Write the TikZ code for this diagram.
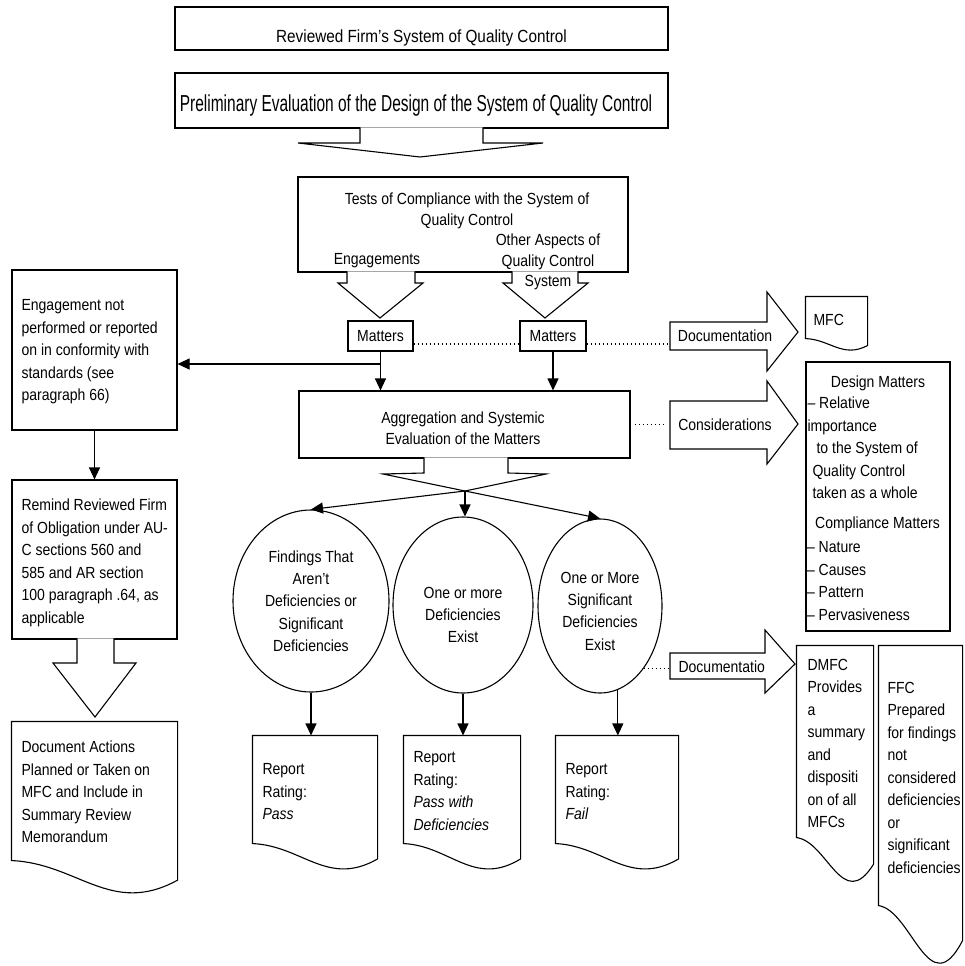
\documentclass[tikz,border=0pt]{standalone}
\usepackage{fontspec}
\setmainfont{Liberation Sans}[FakeStretch=0.87]
\newfontfamily\tallsans{Liberation Sans}[FakeStretch=0.67]
\usetikzlibrary{arrows.meta,shapes.geometric,calc}

\begin{document}
\begin{tikzpicture}[
	x=1pt, y=-1pt, line width=1.1pt,
	box/.style={ draw, rectangle, inner sep=0pt },
	lbl/.style={ font=\fontsize{16.1pt}{20.5pt}\selectfont, align=center, inner sep=0pt },
	note/.style={ font=\fontsize{16.1pt}{22.5pt}\selectfont, align=left, inner sep=0pt, anchor=west },
	doc/.style={ rectangle, inner sep=0pt },
	bubble/.style={ ellipse, draw, inner sep=0pt },
	arr/.style={ -{Triangle[length=12pt,width=11pt]} },
	dotline/.style={ line width=1.3pt, dash pattern=on 1.5pt off 2.5pt }
]
\useasboundingbox (0,0) rectangle (964,966);

\node at (421.5,28.5) (firm) [box, minimum width=493pt, minimum height=43pt] {};
\node at (421.5,100.5) (prelim) [box, minimum width=493pt, minimum height=55pt] {};
\path[draw, fill=white] (360,127.3) -- (360,143) -- (298,143) -- (420,157) -- (543,143) -- (483,143) -- (483,127.3);

\node at (463,224.5) (tests) [box, minimum width=330pt, minimum height=95pt] {};
\path[draw, fill=white] (347,271.3) -- (347,283) -- (338,283) -- (380,318) -- (423,283) -- (415,283) -- (415,271.3);
\path[draw, fill=white] (512,271.3) -- (512,283) -- (503,283) -- (545,318) -- (588,283) -- (578,283) -- (578,271.3);

\node at (421.5,38) (firmtxt) [lbl, font=\fontsize{17.6pt}{20pt}\selectfont] {Reviewed Firm’s System of Quality Control};
\node at (416,106) (prelimtxt) [lbl, font=\tallsans\fontsize{23.1pt}{26pt}\selectfont] {Preliminary Evaluation of the Design of the System of Quality Control};
\node at (467,211) (teststxt) [lbl] {Tests of Compliance with the System of\\Quality Control};
\node at (377,261) (engtxt) [lbl] {Engagements};
\node at (548,262) (othertxt) [lbl] {Other Aspects of\\Quality Control\\System};

\node at (380.5,336) (matters1) [box, lbl, minimum width=65pt, minimum height=30pt] {Matters};
\node at (553,336) (matters2) [box, lbl, minimum width=66pt, minimum height=30pt] {Matters};

\node at (464.5,424.5) (agg) [box, minimum width=331pt, minimum height=67pt] {};
\node at (463,428) (aggtxt) [lbl] {Aggregation and Systemic\\Evaluation of the Matters};
\path[draw, fill=white] (424,457.3) -- (424,473) -- (383,474) -- (465,491) -- (546,474) -- (508,473) -- (508,457.3);
\coordinate (split) at (465,491);

\node at (311,601) (e1) [bubble, minimum width=156pt, minimum height=182pt] {};
\node at (463,605) (e2) [bubble, minimum width=140pt, minimum height=176pt] {};
\node at (600,606) (e3) [bubble, minimum width=124pt, minimum height=174pt] {};
\node at (311,601) (e1txt) [lbl, font=\fontsize{16.1pt}{22.3pt}\selectfont] {Findings That\\Aren’t\\Deficiencies or\\Significant\\Deficiencies};
\node at (463,615) (e2txt) [lbl, font=\fontsize{16.1pt}{22.3pt}\selectfont] {One or more\\Deficiencies\\Exist};
\node at (600,611) (e3txt) [lbl, font=\fontsize{16.1pt}{22.3pt}\selectfont] {One or More\\Significant\\Deficiencies\\Exist};

\draw[arr] (split) -- (e1.north);
\draw[arr] (split) -- (split |- e2.north);
\draw[arr] (split) -- (e3.north);

\node at (315,789.5) (rep1) [doc, minimum width=124pt, minimum height=107pt] {};
\node at (462,789.5) (rep2) [doc, minimum width=116pt, minimum height=107pt] {};
\node at (617,789.5) (rep3) [doc, minimum width=122pt, minimum height=107pt] {};
\node at (262,792) (rep1txt) [note] {Report\\Rating:\\\textit{Pass}};
\node at (413,791) (rep2txt) [note] {Report\\Rating:\\\textit{Pass with}\\\textit{Deficiencies}};
\node at (565,792) (rep3txt) [note] {Report\\Rating:\\\textit{Fail}};
\draw[arr] (e1.south) -- (e1.south |- rep1.north);
\draw[arr] (e2.south) -- (e2.south |- rep2.north);
\draw[arr] (e3.-78) -- (e3.-78 |- rep3.north);

\node at (94.5,350) (nonconf) [box, minimum width=165pt, minimum height=160pt] {};
\node at (21,352) (nonconftxt) [note] {Engagement not\\performed or reported\\on in conformity with\\standards (see\\paragraph 66)};
\node at (94.5,559.5) (remind) [box, minimum width=165pt, minimum height=159pt] {};
\node at (21,563) (remindtxt) [note] {Remind Reviewed Firm\\of Obligation under AU-\\C sections 560 and\\585 and AR section\\100 paragraph .64, as\\applicable};
\path[draw, fill=white] (77,638.3) -- (77,663) -- (53,663) -- (95,717) -- (136,663) -- (114,663) -- (114,638.3);
\node at (94.5,791) (docact) [doc, minimum width=165pt, minimum height=138pt] {};
\node at (21,792) (docacttxt) [note] {Document Actions\\Planned or Taken on\\MFC and Include in\\Summary Review\\Memorandum};

\draw[arr] (matters1.south) -- (matters1.south |- agg.north);
\draw[arr] (matters2.south) -- (matters2.south |- agg.north);
\coordinate (branch) at (380.5,364);
\draw[arr] (branch) -- (branch -| nonconf.east);
\draw[arr] (nonconf.south) -- (remind.north);

\draw (670,322) -- (767,322) -- (767,292) -- (798,332) -- (767,371) -- (767,350) -- (670,350) -- cycle;
\coordinate (doc1) at (670,344);
\node at (725,336) (doclbl1) [lbl] {Documentation};
\draw (670,401) -- (767,401) -- (767,381) -- (798,424) -- (767,464) -- (767,449) -- (670,449) -- cycle;
\coordinate (cons) at (663,424.5);
\node at (725,425) (conslbl) [lbl] {Considerations};
\draw (670,653) -- (765,653) -- (765,630) -- (795,664) -- (765,693) -- (765,679) -- (670,679) -- cycle;
\coordinate (doc2) at (670,666);
\node at (678,667) (doclbl2) [lbl, anchor=west] {Documentatio};

\draw[dotline] ([yshift=-8pt]matters1.east) -- ([yshift=-8pt]matters2.west);
\draw[dotline] ([yshift=-8pt]matters2.east) -- (doc1);
\draw[dotline] ([xshift=4pt]agg.east) -- (cons);
\draw[dotline] (e3.-55) -- (e3.-55 -| doc2);

\node at (836.5,317.5) (mfc) [doc, minimum width=61pt, minimum height=41pt] {};
\node at (813,320) (mfctxt) [note] {MFC};

\node at (878,496.5) (design) [box, minimum width=144pt, minimum height=269pt] {};
\node at (878,383) (designhd) [lbl] {Design Matters};
\node at (807,448) (designtxt) [note] {– Relative\\importance\\\hspace*{9pt}to the System of\\\hspace*{5pt}Quality Control\\\hspace*{5pt}taken as a whole};
\node at (877.5,524) (complhd) [lbl] {Compliance Matters};
\node at (806.5,581) (compltxt) [note] {– Nature\\– Causes\\– Pattern\\– Pervasiveness};

\node at (835,741.5) (dmfc) [doc, minimum width=76pt, minimum height=191pt] {};
\node at (807,743.5) (dmfctxt) [note] {DMFC\\Provides\\a\\summary\\and\\dispositi\\on of all\\MFCs};
\node at (920.5,775.5) (ffc) [doc, minimum width=83pt, minimum height=259pt] {};
\node at (887,777.5) (ffctxt) [note] {FFC\\Prepared\\for findings\\not\\considered\\deficiencies\\or\\significant\\deficiencies};

\foreach \n/\d in {mfc/10, docact/28, rep1/22, rep2/22, rep3/22, dmfc/38, ffc/50}
	\draw (\n.south west) -- (\n.north west) -- (\n.north east) -- ($(\n.south east)+(0,0.7*\d)$) .. controls ($(\n.south west)!0.6!(\n.south east)+(0,2*\d)$) and ($(\n.south west)!0.4!(\n.south east)+(0,0.1*\d)$) .. (\n.south west) -- cycle;

\end{tikzpicture}
\end{document}
